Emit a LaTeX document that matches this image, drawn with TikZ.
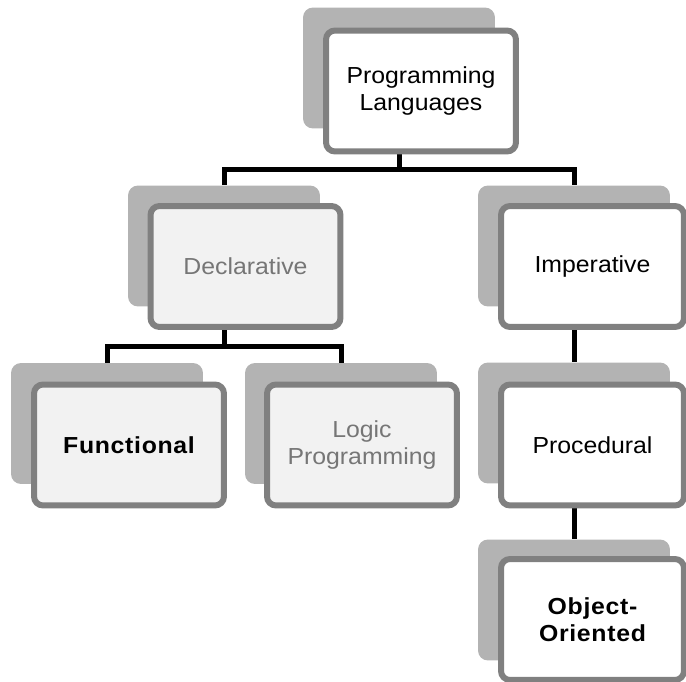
\documentclass[tikz,border=0pt]{standalone}
\usepackage{fontspec}
\setmainfont{Liberation Sans}[FakeStretch=1.07]
\usetikzlibrary{backgrounds}
\definecolor{shadegray}{RGB}{179,179,179}
\definecolor{framegray}{RGB}{128,128,128}
\definecolor{paperfill}{RGB}{242,242,242}
\definecolor{dimtext}{RGB}{118,118,118}

\begin{document}
\begin{tikzpicture}[x=.02cm,y=-.02cm,every node/.style={font=\fontsize{13.2}{15.4}\selectfont},
  backcard/.style={rounded corners=.2cm,fill=shadegray,minimum width=3.84cm,minimum height=2.42cm,inner sep=0pt},
  card/.style={rounded corners=.18cm,draw=framegray,line width=.12cm,fill=white,minimum width=3.8cm,minimum height=2.42cm,align=center,inner sep=0pt},
  pale/.style={fill=paperfill},dim/.style={text=dimtext},narrow/.style={minimum width=3.66cm},
  strong/.style={font=\fontsize{13.2}{15.4}\selectfont\bfseries\addfontfeatures{LetterSpace=3}},
  link/.style={line width=.1cm}]
\useasboundingbox (0,0) rectangle (686,682);
\node[backcard](pl-sh) at(399,68){};\node[card](pl) at(421,91){Programming\\Languages};
\node[backcard](decl-sh) at(224,246){};\node[card,pale,dim](decl) at(245.5,266.5){Declarative};
\node[backcard](imp-sh) at(574,246){};\node[card,narrow](imp) at(592.5,266.5){Imperative};
\node[backcard](func-sh) at(107,423.5){};\node[card,pale,strong](func) at(129,445){Functional};
\node[backcard](logic-sh) at(341,423.5){};\node[card,pale,dim](logic) at(362,445){Logic\\Programming};
\node[backcard](proc-sh) at(574,423){};\node[card,narrow](proc) at(592.5,445){Procedural};
\node[backcard](oo-sh) at(574,600){};\node[card,narrow,strong](oo) at(592.5,619.5){Object-\\Oriented};
\coordinate(top-fork) at(399,170);\coordinate(decl-fork) at(224,346);
\begin{scope}[on background layer]
\draw[link](pl-sh)--(top-fork);\draw[link](decl-sh)|-(top-fork)-|(imp-sh);
\draw[link](decl-sh)--(decl-fork);\draw[link](func-sh)|-(decl-fork)-|(logic-sh);
\draw[link](imp-sh)--(proc-sh);\draw[link](proc-sh)--(oo-sh);
\end{scope}
\end{tikzpicture}
\end{document}
